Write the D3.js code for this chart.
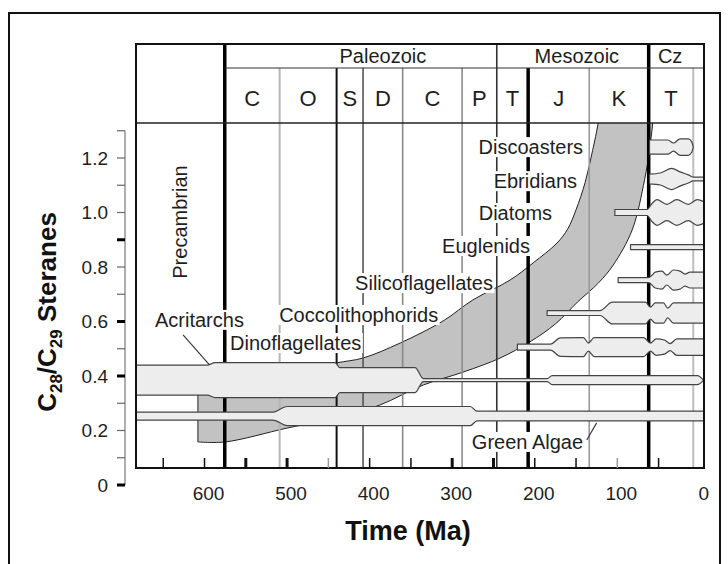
<!DOCTYPE html>
<html>
<head>
<meta charset="utf-8">
<script src="https://cdn.jsdelivr.net/npm/d3@7"></script>
<style>
  html, body { margin: 0; padding: 0; background: #fff; }
  svg { display: block; font-family: "Liberation Sans", Arial, Helvetica, sans-serif; }
</style>
</head>
<body>
<svg id="chart" width="728" height="564"></svg>
<script>
// ---- Axis ticks ----
const timeTicks = [650, 600, 550, 500, 450, 400, 350, 300, 250, 200, 150, 100, 50];
const timeLabels = [600, 500, 400, 300, 200, 100, 0];
const ratioTicks = [0, 0.1, 0.2, 0.3, 0.4, 0.5, 0.6, 0.7, 0.8, 0.9, 1.0, 1.1, 1.2, 1.3];
const ratioLabels = [0, 0.2, 0.4, 0.6, 0.8, 1.0, 1.2];

// ---- Geological time scale (Ma) ----
const boundaries = [575.5, 509, 440, 408, 360, 288, 246, 208, 134, 62, 8];
const periods = [
  { name: "C", from: 575.5, to: 509 },
  { name: "O", from: 509, to: 440 },
  { name: "S", from: 440, to: 408 },
  { name: "D", from: 408, to: 360 },
  { name: "C", from: 360, to: 288 },
  { name: "P", from: 288, to: 246 },
  { name: "T", from: 246, to: 208 },
  { name: "J", from: 208, to: 134 },
  { name: "K", from: 134, to: 62 },
  { name: "T", from: 62, to: 8 }
];
const eras = [
  { name: "Paleozoic", from: 575.5, to: 246, labelAt: 384 },
  { name: "Mesozoic", from: 246, to: 62, labelAt: 149 },
  { name: "Cz", from: 62, to: -5, labelAt: 36 }
];

// ---- C28/C29 sterane ratio envelope [age, ratio] ----
const envelopeUpper = [
  [608, 0.367], [485, 0.415], [440, 0.448], [408, 0.466], [363, 0.521],
  [311, 0.602], [275, 0.679], [230, 0.752], [202, 0.815], [173, 0.888],
  [160, 0.94], [150, 1.01], [139, 1.11], [130, 1.227], [123, 1.33], [119, 1.42]
];
const envelopeLower = [
  [608, 0.158], [575, 0.158], [500, 0.209], [436, 0.25], [388, 0.293],
  [335, 0.367], [287, 0.414], [242, 0.466], [206, 0.525], [175, 0.591],
  [148, 0.672], [123, 0.741], [105, 0.807], [82, 0.936], [67, 1.12],
  [61, 1.23], [57, 1.33], [54, 1.42]
];

// ---- Spindle profiles of phytoplankton groups [age, half width] ----
const greenAlgae = [[683, 0.0147], [517, 0.0147], [500, 0.035], [278, 0.035], [270, 0.018], [-4.5, 0.018]];
const acritarchs = [[683, 0.055], [597, 0.055], [587, 0.064], [442, 0.064], [436, 0.046], [345, 0.046],
  [335, 0.0055], [185, 0.0055], [179, 0.0165], [3, 0.0165], [-4.5, 0]];
const dinoflagellates = [[221, 0.011], [181, 0.011], [169, 0.034], [141, 0.035], [135, 0.015], [128, 0.035],
  [68, 0.035], [60, 0.015], [53, 0.03], [43, 0.026], [36, 0.013], [28, 0.03], [2, 0.03], [-4.5, 0.03]];
const coccolithophorids = [[185, 0.009], [121, 0.009], [106, 0.04], [66, 0.04], [60, 0.022], [54, 0.037],
  [44, 0.037], [39, 0.018], [32, 0.037], [-4.5, 0.037]];
const silicoflagellates = [[99, 0.009], [62, 0.009], [54, 0.029], [46, 0.033], [40, 0.018], [32, 0.037],
  [24, 0.033], [18, 0.022], [12, 0.029], [-4.5, 0.029]];
const euglenids = [[84, 0.009], [-4.5, 0.009]];
const diatoms = [[103, 0.011], [64, 0.011], [58, 0.033], [52, 0.047], [40, 0.03], [28, 0.047],
  [14, 0.03], [3, 0.047], [-4.5, 0.04]];
const ebridians = [[61, 0.018], [48, 0.022], [34, 0.039], [24, 0.026], [14, 0.015], [8, 0.007], [-4.5, 0.007]];
const discoasters = [[61, 0.026], [39, 0.026], [32, 0.015], [24, 0.03], [14, 0.03], [10, 0.02], [8, 0]];

const taxa = [
  { name: "Green Algae", center: 0.253, profile: greenAlgae },
  { name: "Acritarchs", center: 0.385, profile: acritarchs },
  { name: "Dinoflagellates", center: 0.506, profile: dinoflagellates },
  { name: "Coccolithophorids", center: 0.631, profile: coccolithophorids },
  { name: "Silicoflagellates", center: 0.752, profile: silicoflagellates },
  { name: "Euglenids", center: 0.873, profile: euglenids },
  { name: "Diatoms", center: 1.0, profile: diatoms },
  { name: "Ebridians", center: 1.123, profile: ebridians },
  { name: "Discoasters", center: 1.24, profile: discoasters }
];

// Label anchors [age, ratio]; leader lines as [[age, ratio], [age, ratio]]
const taxonLabels = [
  { text: "Discoasters", t: 141.5, v: 1.24, anchor: "end" },
  { text: "Ebridians", t: 148.8, v: 1.115, anchor: "end" },
  { text: "Diatoms", t: 179, v: 0.998, anchor: "end" },
  { text: "Euglenids", t: 205.8, v: 0.877, anchor: "end" },
  { text: "Silicoflagellates", t: 250.6, v: 0.741, anchor: "end" },
  { text: "Coccolithophorids", t: 317, v: 0.624, anchor: "end" },
  { text: "Dinoflagellates", t: 569, v: 0.521, anchor: "start" },
  { text: "Acritarchs", t: 660, v: 0.606, anchor: "start", leader: [[626, 0.551], [594, 0.441]] },
  { text: "Green Algae", t: 141.5, v: 0.158, anchor: "end", leader: [[137, 0.165], [125, 0.228]] }
];

// ---- Layout ----
const svg = d3.select("#chart");
const frame = { left: 136, right: 704, top: 123, bottom: 468, headTop: 44, eraBottom: 68 };
const x = d3.scaleLinear().domain([683, -5]).range([frame.left, frame.right]);
const y = d3.scaleLinear().domain([0, 1.2]).range([485, 158]);
const ink = "#1e1e1e";

// outer border of the figure
svg.append("rect").attr("x", 9).attr("y", 13).attr("width", 711).attr("height", 620)
  .attr("fill", "none").attr("stroke", "#111").attr("stroke-width", 2);

svg.append("defs").append("clipPath").attr("id", "plotClip")
  .append("rect").attr("x", frame.left).attr("y", frame.top)
  .attr("width", frame.right - frame.left).attr("height", frame.bottom - frame.top);

// sterane envelope
const envLine = d3.line().x(d => x(d[0])).y(d => y(d[1])).curve(d3.curveCatmullRom.alpha(0.5));
const upperPath = envLine(envelopeUpper);
const lowerPath = envLine(envelopeLower.slice().reverse());
svg.append("path")
  .attr("clip-path", "url(#plotClip)")
  .attr("d", upperPath + "L" + lowerPath.slice(1) + "Z")
  .attr("fill", "#c2c2c2").attr("stroke", "#222").attr("stroke-width", 1);

// time boundaries through the plot
const boundaryStroke = [
  [3.5, "#000"], [2, "#b5b5b5"], [2, "#111"], [1.6, "#555"], [1.6, "#888"], [1.6, "#8c8c8c"],
  [1.6, "#333"], [3.5, "#000"], [1.6, "#999"], [3.5, "#000"], [2, "#bdbdbd"]
];
const eraEdges = new Set([575.5, 246, 62]);
svg.append("g").selectAll("line").data(boundaries).join("line")
  .attr("x1", d => x(d)).attr("x2", d => x(d))
  .attr("y1", d => eraEdges.has(d) ? frame.headTop : frame.eraBottom)
  .attr("y2", frame.bottom)
  .attr("stroke", (d, i) => boundaryStroke[i][1])
  .attr("stroke-width", (d, i) => boundaryStroke[i][0]);

// spindles
const spindle = c => d3.area()
  .x(d => x(d[0]))
  .y0(d => y(c - d[1]))
  .y1(d => y(c + d[1]))
  .curve(d3.curveMonotoneX);
svg.append("g").selectAll("path").data(taxa).join("path")
  .attr("d", d => spindle(d.center)(d.profile))
  .attr("fill", "#ededed").attr("stroke", "#444").attr("stroke-width", 1.2)
  .attr("stroke-linejoin", "round");

// taxon labels with white backing
const labelG = svg.append("g");
taxonLabels.forEach(l => {
  if (l.leader) {
    labelG.append("line")
      .attr("x1", x(l.leader[0][0])).attr("y1", y(l.leader[0][1]))
      .attr("x2", x(l.leader[1][0])).attr("y2", y(l.leader[1][1]))
      .attr("stroke", "#333").attr("stroke-width", 1.1);
  }
  const g = labelG.append("g");
  const t = g.append("text")
    .attr("x", x(l.t)).attr("y", y(l.v)).attr("dy", "0.35em")
    .attr("text-anchor", l.anchor)
    .style("font-size", "20px").attr("fill", ink).text(l.text);
  const b = t.node().getBBox();
  g.insert("rect", "text").attr("x", b.x - 1.5).attr("y", b.y + 1).attr("width", b.width + 3)
    .attr("height", b.height - 2).attr("fill", "#fff");
});

svg.append("text")
  .attr("transform", `translate(${x(630)},${y(0.965)}) rotate(-90)`)
  .attr("text-anchor", "middle").attr("dy", "0.35em")
  .style("font-size", "20px").attr("fill", ink).text("Precambrian");

// frame, header rules
const rule = (x1, y1, x2, y2, w, c) => svg.append("line")
  .attr("x1", x1).attr("y1", y1).attr("x2", x2).attr("y2", y2)
  .attr("stroke", c).attr("stroke-width", w);
rule(frame.left, frame.headTop, frame.right, frame.headTop, 2, "#111");
rule(x(575.5), frame.eraBottom, frame.right, frame.eraBottom, 1.2, "#333");
rule(frame.left, frame.top, frame.right, frame.top, 1.6, "#222");
rule(frame.left, frame.headTop - 1, frame.left, frame.bottom + 1, 2, "#111");
rule(frame.right, frame.headTop - 1, frame.right, frame.bottom + 1, 2, "#111");
rule(frame.left, frame.bottom, frame.right, frame.bottom, 2, "#111");

// header text
svg.append("g").selectAll("text").data(eras).join("text")
  .attr("x", d => x(d.labelAt)).attr("y", (frame.headTop + frame.eraBottom) / 2)
  .attr("dy", "0.36em").attr("text-anchor", "middle")
  .style("font-size", "20px").attr("fill", ink).text(d => d.name);
svg.append("g").selectAll("text").data(periods).join("text")
  .attr("x", d => x((d.from + d.to) / 2)).attr("y", 98)
  .attr("dy", "0.36em").attr("text-anchor", "middle")
  .style("font-size", "22px").attr("fill", ink).text(d => d.name);

// time axis: ticks inside the frame
const heavyTicks = new Set([550, 500, 300, 250]);
const paleTicks = new Set([450, 100]);
svg.append("g").selectAll("line").data(timeTicks).join("line")
  .attr("x1", d => x(d)).attr("x2", d => x(d))
  .attr("y1", frame.bottom).attr("y2", frame.bottom - 10)
  .attr("stroke", d => paleTicks.has(d) ? "#9a9a9a" : "#111")
  .attr("stroke-width", d => heavyTicks.has(d) ? 3 : 1.5);
svg.append("g").selectAll("text").data(timeLabels).join("text")
  .attr("x", d => x(d) + 4).attr("y", 500)
  .attr("text-anchor", "middle").style("font-size", "19px").attr("fill", ink)
  .text(d => d);
svg.append("text").attr("x", 408).attr("y", 540).attr("text-anchor", "middle")
  .style("font-size", "27px").style("font-weight", "bold").attr("fill", "#111")
  .text("Time (Ma)");

// ratio axis
const yAxisX = 125;
rule(yAxisX, y(1.3), yAxisX, y(0), 1.2, "#777");
const boldRatio = new Set([0, 0.4, 0.6, 0.9]);
svg.append("g").selectAll("line").data(ratioTicks).join("line")
  .attr("x1", yAxisX - 8).attr("x2", yAxisX)
  .attr("y1", d => y(d)).attr("y2", d => y(d))
  .attr("stroke", d => boldRatio.has(d) ? "#000" : "#666")
  .attr("stroke-width", d => boldRatio.has(d) ? 3 : 1.2);
svg.append("g").selectAll("text").data(ratioLabels).join("text")
  .attr("x", 108).attr("y", d => y(d)).attr("dy", "0.36em")
  .attr("text-anchor", "end").style("font-size", "19px").attr("fill", ink)
  .text(d => d === 0 ? "0" : d.toFixed(1));

const yTitle = svg.append("text")
  .attr("transform", "translate(56,312) rotate(-90)")
  .attr("text-anchor", "middle")
  .style("font-size", "26px").style("font-weight", "bold").attr("fill", "#111");
yTitle.append("tspan").text("C");
yTitle.append("tspan").attr("dy", 6).style("font-size", "17px").text("28");
yTitle.append("tspan").attr("dy", -6).text("/C");
yTitle.append("tspan").attr("dy", 6).style("font-size", "17px").text("29");
yTitle.append("tspan").attr("dy", -6).text(" Steranes");
</script>
</body>
</html>
